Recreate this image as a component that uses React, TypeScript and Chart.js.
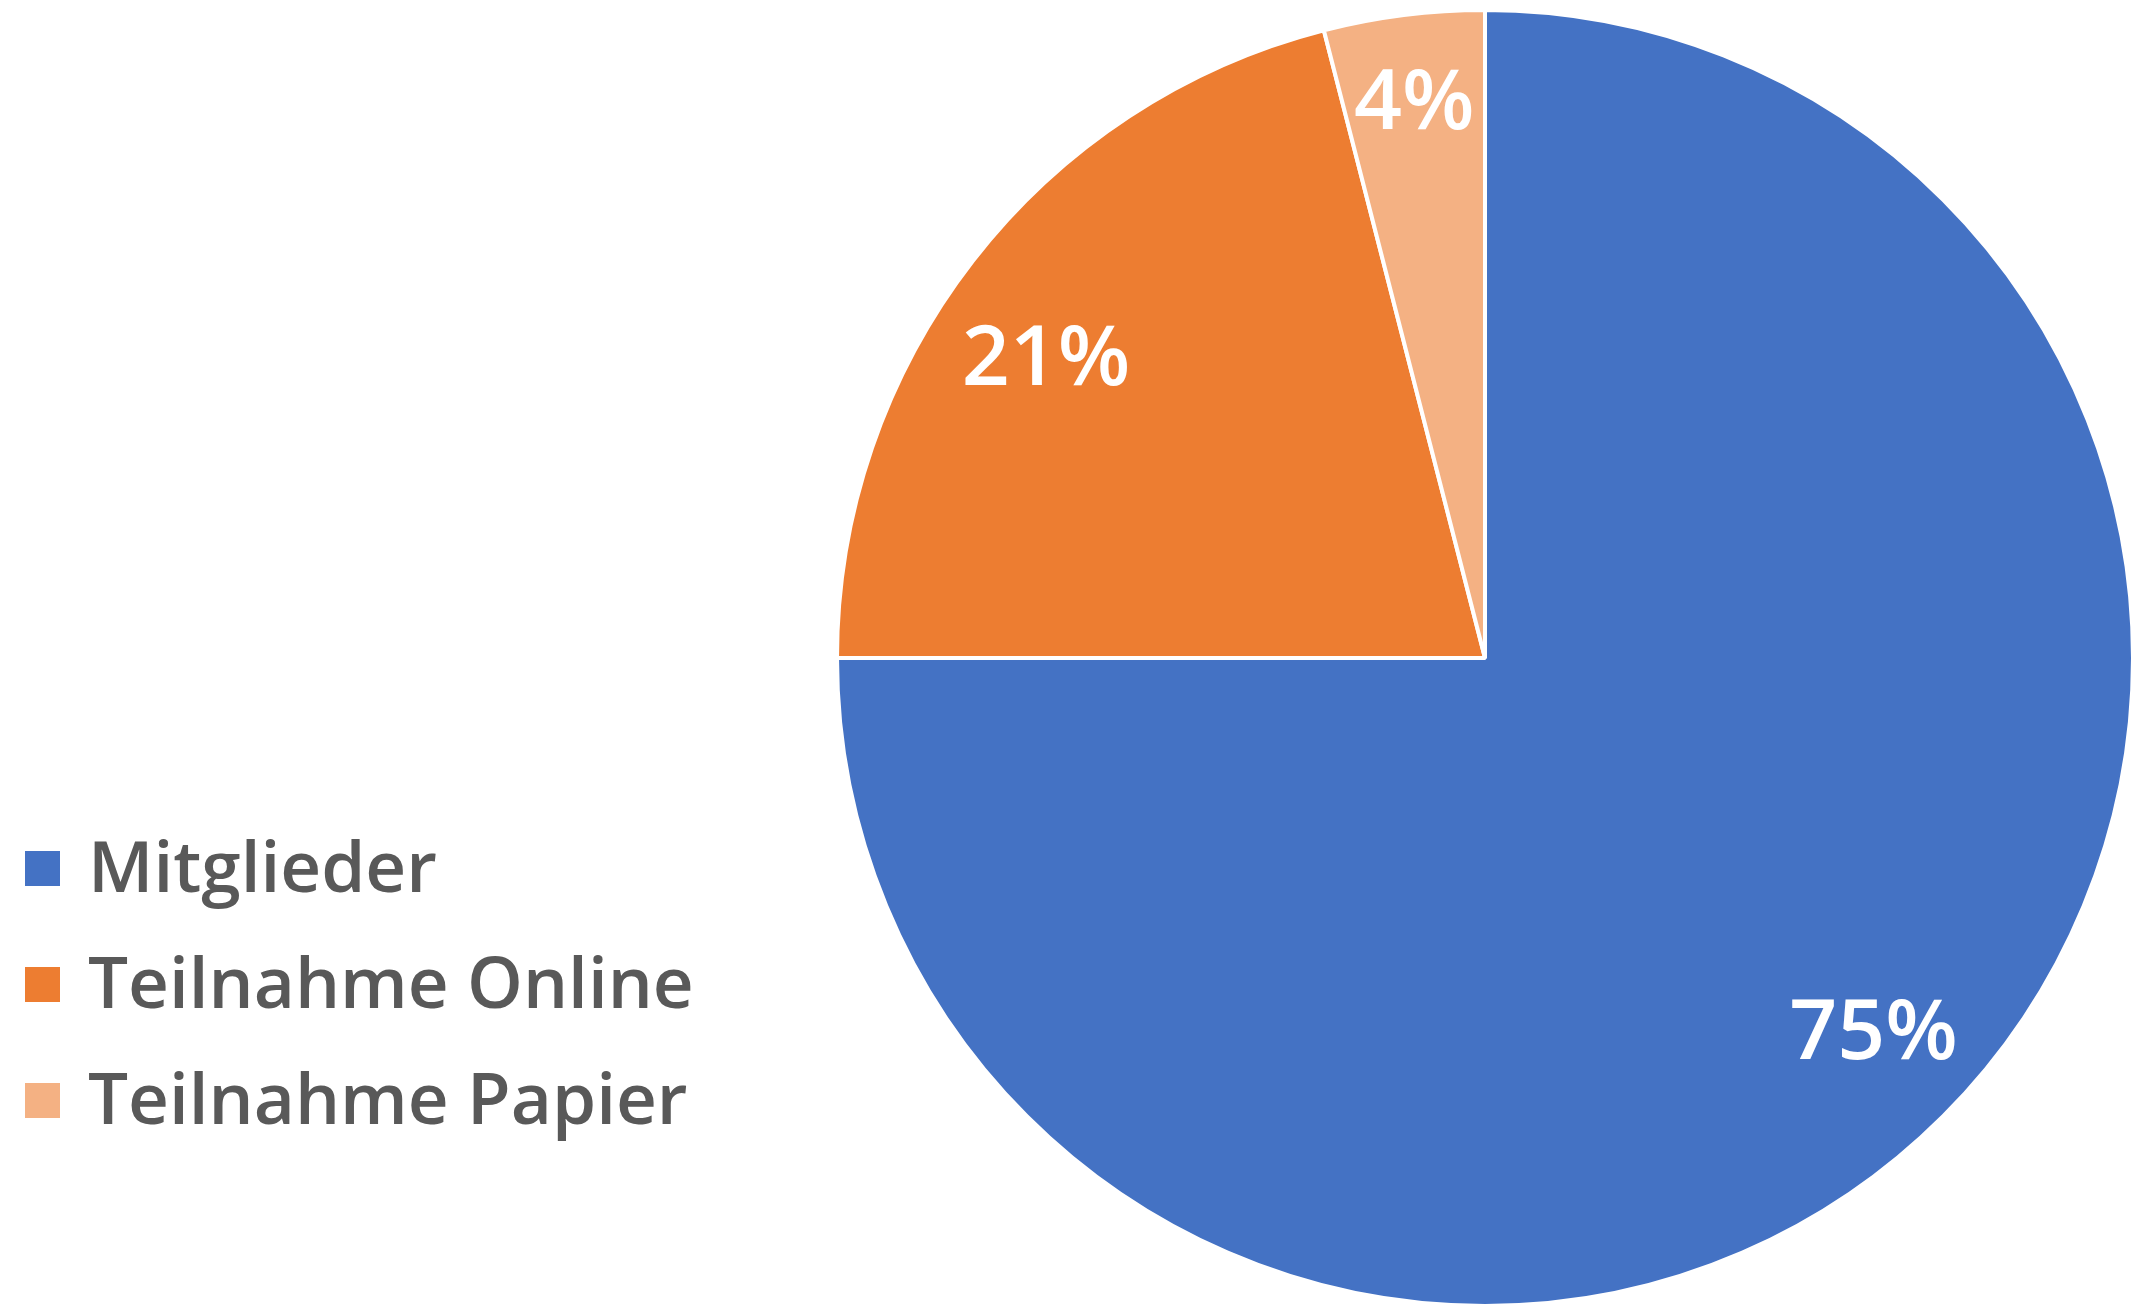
import React, { useEffect, useRef } from "react";
import { Chart, registerables } from "chart.js";

Chart.register(...registerables);

const categories = ["Mitglieder", "Teilnahme Online", "Teilnahme Papier"];
const values = [75, 21, 4];
const colors = ["#4472C4", "#ED7D31", "#F4B183"];

const LABEL_RADIAL = [0.829, 0.823, 0.87];
const LABEL_ANGLE_SHIFT = [-0.023, -0.056, 0];
const FONT = "'Open Sans', 'Noto Sans', sans-serif";

const sideLegend = {
  id: "sideLegend",
  afterDraw(chart: any) {
    const ctx = chart.ctx;
    const labels: string[] = chart.data.labels;
    const bg: string[] = chart.data.datasets[0].backgroundColor;
    ctx.save();
    ctx.font = `600 71px ${FONT}`;
    ctx.textAlign = "left";
    ctx.textBaseline = "alphabetic";
    labels.forEach((l, i) => {
      const base = 892 + i * 116;
      ctx.fillStyle = bg[i];
      ctx.fillRect(25, base - 41, 35, 35);
      ctx.fillStyle = "#595959";
      ctx.fillText(l, 88, base);
    });
    ctx.restore();
  },
};

const sliceLabels = {
  id: "sliceLabels",
  afterDatasetsDraw(chart: any) {
    const ctx = chart.ctx;
    const meta = chart.getDatasetMeta(0);
    const data: number[] = chart.data.datasets[0].data;
    const total = data.reduce((a, b) => a + b, 0);
    ctx.save();
    const size = 84;
    ctx.font = `600 ${size}px ${FONT}`;
    ctx.fillStyle = "#FFFFFF";
    ctx.textAlign = "center";
    ctx.textBaseline = "alphabetic";
    meta.data.forEach((arc: any, i: number) => {
      const p = arc.getProps(["x", "y", "startAngle", "endAngle", "outerRadius"], true);
      const mid = (p.startAngle + p.endAngle) / 2 + LABEL_ANGLE_SHIFT[i];
      const r = p.outerRadius * LABEL_RADIAL[i];
      const cx = p.x + Math.cos(mid) * r;
      const cy = p.y + Math.sin(mid) * r;
      const txt = Math.round((data[i] / total) * 100) + "%";
      ctx.fillText(txt, cx, cy + size * 0.714 / 2);
    });
    ctx.restore();
  },
};

export default function App() {
  const ref = useRef<HTMLCanvasElement | null>(null);
  useEffect(() => {
    if (!ref.current) return;
    const chart = new Chart(ref.current, {
      type: "pie",
      data: {
        labels: categories,
        datasets: [
          {
            data: values,
            backgroundColor: colors,
            borderColor: "#FFFFFF",
            borderWidth: 4,
            radius: 648,
            hoverOffset: 0,
          } as any,
        ],
      },
      options: {
        animation: false,
        responsive: true,
        maintainAspectRatio: false,
        devicePixelRatio: 1,
        layout: { padding: { left: 834, right: 0, top: 9, bottom: 0 } },
        plugins: {
          legend: { display: false },
          tooltip: { enabled: false },
        },
      },
      plugins: [sideLegend, sliceLabels],
    });
    return () => chart.destroy();
  }, []);
  return (
    <div
      style={{
        position: "fixed",
        left: 0,
        top: 0,
        width: "2136px",
        height: "1307px",
        background: "#FFFFFF",
      }}
    >
      <canvas ref={ref} />
    </div>
  );
}
